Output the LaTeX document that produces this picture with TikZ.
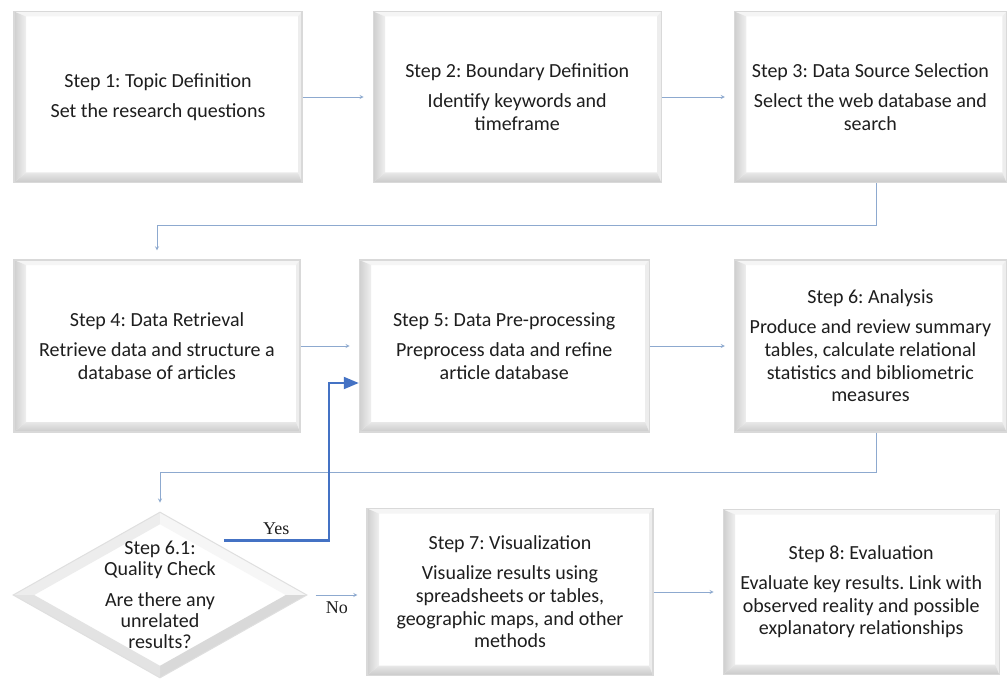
\documentclass[tikz,border=0pt]{standalone}
\usepackage{fontspec}
\setmainfont{Carlito}
\newfontfamily\ynfont{Liberation Serif}
\frenchspacing
\usetikzlibrary{arrows,shapes.geometric}
\usetikzlibrary{positioning}
\definecolor{linkblue}{HTML}{8DA9CF}
\definecolor{yesblue}{HTML}{4472C4}
\definecolor{txtgray}{HTML}{1E1E1E}
\tikzstyle{bevel} = [path picture={
  \path (path picture bounding box.south west) coordinate (bl)
        (path picture bounding box.north west) coordinate (tl)
        (path picture bounding box.north east) coordinate (tr)
        (path picture bounding box.south east) coordinate (br);
  \fill[gray!8] (tl) -- (tr) -- ([shift={(-4pt,-5pt)}]tr) -- ([shift={(12pt,-5pt)}]tl) -- cycle;
  \fill[gray!14] (tr) -- (br) -- ([shift={(-4pt,10pt)}]br) -- ([shift={(-4pt,-5pt)}]tr) -- cycle;
  \shade[left color=gray!38, right color=gray!12] (bl) -- (tl) -- ([shift={(12pt,-5pt)}]tl) -- ([shift={(12pt,10pt)}]bl) -- cycle;
  \shade[bottom color=gray!42, top color=gray!18] (bl) -- ([shift={(12pt,10pt)}]bl) -- ([shift={(-4pt,10pt)}]br) -- (br) -- cycle;
}]
\tikzstyle{facets} = [path picture={
  \path (path picture bounding box.north) coordinate (dt)
        (path picture bounding box.south) coordinate (db)
        (path picture bounding box.east) coordinate (de)
        (path picture bounding box.west) coordinate (dw);
  \fill[gray!14] (dw) -- (dt) -- ([yshift=-12pt]dt) -- ([xshift=21pt]dw) -- cycle;
  \fill[gray!7] (dt) -- (de) -- ([xshift=-21pt]de) -- ([yshift=-12pt]dt) -- cycle;
  \fill[gray!30] (de) -- (db) -- ([yshift=12pt]db) -- ([xshift=-21pt]de) -- cycle;
  \fill[gray!22] (db) -- (dw) -- ([xshift=21pt]dw) -- ([yshift=12pt]db) -- cycle;
}]
\tikzstyle{stepbox} = [rectangle, draw=gray!30, line width=1.2pt, fill=white, bevel, inner sep=0pt, minimum width=288pt, minimum height=171pt, align=center, text=txtgray, font=\fontsize{20}{22.7}\selectfont]
\tikzstyle{check} = [diamond, draw=gray!25, line width=1pt, fill=white, facets, inner sep=-40pt, minimum width=294pt, minimum height=166pt, align=center, text=txtgray, font=\fontsize{20}{21}\selectfont]
\tikzstyle{link} = [->, >=stealth, draw=linkblue, line width=0.8pt, shorten >=9pt]
\tikzstyle{yes} = [-triangle 45, draw=yesblue, line width=2.5pt]
\tikzstyle{answer} = [text=txtgray, font=\ynfont\fontsize{18}{20}\selectfont]

\begin{document}
\begin{tikzpicture}[x=1pt, y=-1pt, node distance=70pt]
 \useasboundingbox[fill=white] (0,0) rectangle (1008,679);

 \node (st1) [stepbox] at (158,97) {Step 1: Topic Definition\\[7pt]Set the research questions};
 \node (st2) [stepbox, right=of st1] {Step 2: Boundary Definition\\[7pt]Identify keywords and\\timeframe};
 \node (st3) [stepbox, minimum width=272pt, right=72pt of st2] {Step 3: Data Source Selection\\[7pt]Select the web database and\\search};

 \node (st4) [stepbox, minimum width=286pt, minimum height=172pt] at (157,346) {Step 4: Data Retrieval\\[7pt]Retrieve data and structure a\\database of articles};
 \node (st5) [stepbox, minimum width=290pt, minimum height=172pt, right=58pt of st4] {Step 5: Data Pre-processing\\[7pt]Preprocess data and refine\\article database};
 \node (st6) [stepbox, minimum width=272pt, minimum height=172pt, right=84pt of st5] {Step 6: Analysis\\[7pt]Produce and review summary\\tables, calculate relational\\statistics and bibliometric\\measures};

 \node (chk) [check] at (160,595) {Step 6.1:\\Quality Check\\[10pt]Are there any\\unrelated\\results?};
 \node (st7) [stepbox, minimum width=286pt, minimum height=167pt] at (510,592) {Step 7: Visualization\\[7pt]Visualize results using\\spreadsheets or tables,\\geographic maps, and other\\methods};
 \node (st8) [stepbox, minimum width=276pt, minimum height=165pt, right=69pt of st7] {Step 8: Evaluation\\[7pt]Evaluate key results. Link with\\observed reality and possible\\explanatory relationships};

 \draw[link] (st1) -- (st2);
 \draw[link] (st2) -- (st3);
 \draw[link] ([xshift=6pt]st3.south) -- ++(0,42) -| (st4.north);
 \draw[link] (st4) -- (st5);
 \draw[link] (st5) -- (st6);
 \draw[link] ([xshift=6pt]st6.south) -- ++(0,40) -| (chk.north);
 \draw[link] (st7) -- (st8);
 \draw[link, shorten <=8pt] (chk.east) -- (chk.east -| st7.west) node[midway, below=3pt, answer] {No};
 \draw[yes] ([shift={(-10pt,13pt)}]chk.north east) -- ++(105,0) node[midway, above=1pt, answer] {Yes} |- ([yshift=-37pt]st5.west);
\end{tikzpicture}
\end{document}
